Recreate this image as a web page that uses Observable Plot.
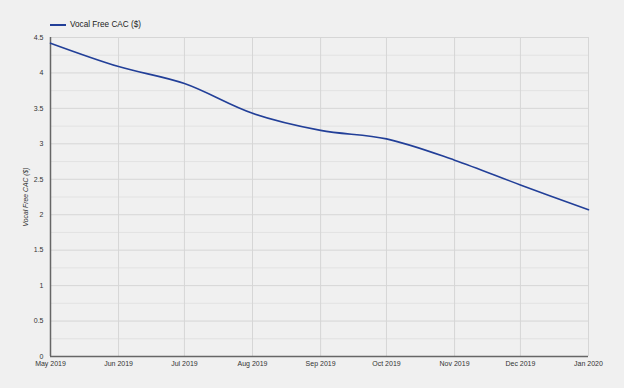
<!DOCTYPE html>
<html>
<head>
<meta charset="utf-8">
<script src="https://cdn.jsdelivr.net/npm/d3@7"></script>
<script src="https://cdn.jsdelivr.net/npm/@observablehq/plot@0.6"></script>
<style>
  html, body { margin: 0; padding: 0; background: #f0f0f0; }
  body { width: 624px; height: 388px; overflow: hidden; font-family: "Liberation Sans", Arial, sans-serif; }
  #legend { height: 30px; position: relative; }
  #legend .sw { position: absolute; left: 50px; top: 24px; width: 16px; height: 2px; background: #223f98; }
  #legend .lb { position: absolute; left: 70px; top: 20px; font-size: 8.2px; color: #222; }
  svg { display: block; }
</style>
</head>
<body>
<div id="legend"><span class="sw"></span><span class="lb">Vocal Free CAC ($)</span></div>
<div id="chart"></div>
<script>
const months = ["2019-05-01","2019-06-01","2019-07-01","2019-08-01","2019-09-01","2019-10-01","2019-11-01","2019-12-01","2020-01-01"];
const cac = [4.42, 4.09, 3.85, 3.43, 3.19, 3.07, 2.77, 2.42, 2.07];
const seriesName = "Vocal Free CAC ($)";
const majorTicks = [0, 0.5, 1, 1.5, 2, 2.5, 3, 3.5, 4, 4.5];
const minorTicks = [0.25, 0.75, 1.25, 1.75, 2.25, 2.75, 3.25, 3.75, 4.25];

const data = months.map((m, i) => ({date: new Date(m + "T00:00:00Z"), value: cac[i]}));
const dates = data.map(d => d.date);
const fmt = d3.utcFormat("%b %Y");
const fmtY = d => String(d);

const chart = Plot.plot({
  width: 624,
  height: 358,
  marginLeft: 50,
  marginRight: 36,
  marginTop: 7,
  marginBottom: 32,
  style: {background: "#f0f0f0", fontFamily: "'Liberation Sans', Arial, sans-serif", fontSize: "7px", color: "#444"},
  x: {type: "utc", domain: [dates[0], dates[dates.length - 1]]},
  y: {domain: [0, 4.5]},
  marks: [
    Plot.ruleY(minorTicks, {stroke: "#e2e2e2", strokeWidth: 1}),
    Plot.ruleY(majorTicks, {stroke: "#d6d6d6", strokeWidth: 1}),
    Plot.ruleX(dates, {stroke: "#d6d6d6", strokeWidth: 1}),
    Plot.axisX({ticks: dates, tickFormat: fmt, tickSize: 0, tickPadding: 5, label: null, fill: "#333", fontSize: 7}),
    Plot.axisY({ticks: majorTicks, tickFormat: fmtY, tickSize: 0, tickPadding: 7, label: null, fill: "#333", fontSize: 7}),
    Plot.ruleX([dates[0]], {stroke: "#666", strokeWidth: 1.5}),
    Plot.ruleY([0], {stroke: "#666", strokeWidth: 1.5}),
    Plot.line(data, {x: "date", y: "value", stroke: "#223f98", strokeWidth: 1.6, curve: "catmull-rom"}),
    Plot.text([seriesName], {frameAnchor: "left", textAnchor: "middle", rotate: -90, dx: -25, fontStyle: "italic", fontSize: 6.8, fill: "#333"})
  ]
});
document.getElementById("chart").appendChild(chart);
</script>
</body>
</html>
